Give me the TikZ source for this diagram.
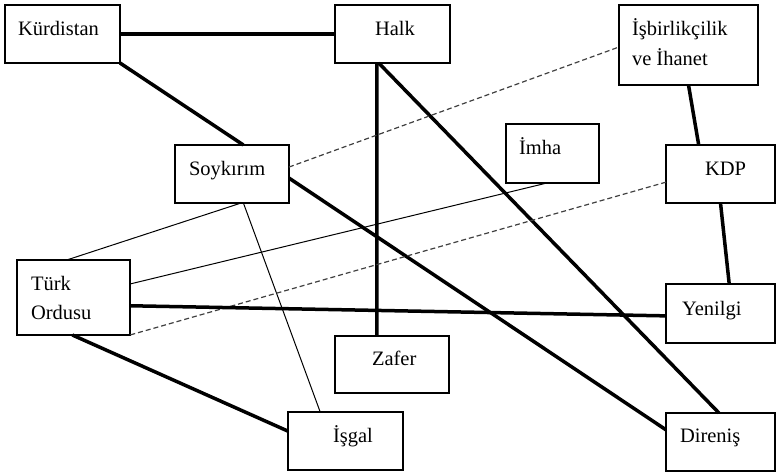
\documentclass[tikz,border=0pt]{standalone}
\usepackage{fontspec}
\setmainfont{Liberation Serif}
\usetikzlibrary{calc}
\begin{document}
\begin{tikzpicture}[x=1pt,y=-1pt,
  box/.style={draw=black,line width=1.1pt,rectangle,inner sep=0pt,outer sep=0pt},
  lbl/.style={anchor=base west,inner sep=0pt,outer sep=0pt,font=\fontsize{20.5}{24}\selectfont},
  strong/.style={line width=3.5pt},
  weak/.style={line width=1pt},
  dashlink/.style={line width=1.2pt,draw=black!75,dash pattern=on 5pt off 3pt}]
\useasboundingbox (0,0) rectangle (776,475);
% boxes
\node[box,minimum width=115pt,minimum height=58pt] (kurd) at (62.5,34) {};
\node[box,minimum width=115pt,minimum height=58pt] (halk) at (392.5,34) {};
\node[box,minimum width=139pt,minimum height=80pt] (isb) at (688.5,45) {};
\node[box,minimum width=114pt,minimum height=58pt] (soy) at (232,174) {};
\node[box,minimum width=93pt,minimum height=59pt] (imha) at (552.5,153.5) {};
\node[box,minimum width=109pt,minimum height=58pt] (kdp) at (720.5,174) {};
\node[box,minimum width=113pt,minimum height=75pt] (turk) at (73.5,297.5) {};
\node[box,minimum width=114pt,minimum height=57pt] (zafer) at (392,364.5) {};
\node[box,minimum width=115pt,minimum height=58pt] (isgal) at (345.5,441) {};
\node[box,minimum width=109pt,minimum height=59pt] (yen) at (720.5,313.5) {};
\node[box,minimum width=109pt,minimum height=58pt] (dir) at (720.5,442) {};
% texts
\node[lbl] (kurd-t) at (18,35) {Kürdistan};
\node[lbl] (halk-t) at (375,35) {Halk};
\node[lbl] (isb-t1) at (632,35) {İşbirlikçilik};
\node[lbl] (isb-t2) at (632,65) {ve İhanet};
\node[lbl] (soy-t) at (189,175) {Soykırım};
\node[lbl] (imha-t) at (519,154) {İmha};
\node[lbl] (kdp-t) at (705,175) {KDP};
\node[lbl] (turk-t1) at (31,290) {Türk};
\node[lbl] (turk-t2) at (31,319) {Ordusu};
\node[lbl] (zafer-t) at (372,365) {Zafer};
\node[lbl] (isgal-t) at (333,442) {İşgal};
\node[lbl] (yen-t) at (682,315) {Yenilgi};
\node[lbl] (dir-t) at (680,442) {Direniş};
% connectors
\draw[strong] (kurd) -- (halk);
\draw[strong] (kurd.south east) -- ($(soy.north west)!0.6!(soy.north east)$);
\draw[strong] ($(halk.south west)!0.365!(halk.south east)$) -- ($(zafer.north west)!0.368!(zafer.north east)$);
\draw[strong] ($(halk.south west)!0.38!(halk.south east)$) -- ($(dir.north west)!0.486!(dir.north east)$);
\draw[strong] ($(soy.north east)!0.57!(soy.south east)$) -- ($(dir.north west)!0.29!(dir.south west)$);
\draw[dashlink] ($(soy.north east)!0.38!(soy.south east)$) -- ($(isb.north west)!0.525!(isb.south west)$);
\draw[weak] ($(soy.south west)!0.58!(soy.south east)$) -- ($(turk.north west)!0.44!(turk.north east)$);
\draw[weak] ($(soy.south west)!0.6!(soy.south east)$) -- ($(isgal.north west)!0.28!(isgal.north east)$);
\draw[weak] ($(imha.south west)!0.44!(imha.south east)$) -- ($(turk.north east)!0.32!(turk.south east)$);
\draw[dashlink] ($(kdp.north west)!0.64!(kdp.south west)$) -- (turk.south east);
\draw[strong] ($(isb.south west)!0.5!(isb.south east)$) -- ($(kdp.north west)!0.3!(kdp.north east)$);
\draw[strong] ($(kdp.south west)!0.5!(kdp.south east)$) -- ($(yen.north west)!0.58!(yen.north east)$);
\draw[strong] ($(turk.north east)!0.61!(turk.south east)$) -- ($(yen.north west)!0.54!(yen.south west)$);
\draw[strong] ($(turk.south west)!0.49!(turk.south east)$) -- ($(isgal.north west)!0.33!(isgal.south west)$);
\end{tikzpicture}
\end{document}
